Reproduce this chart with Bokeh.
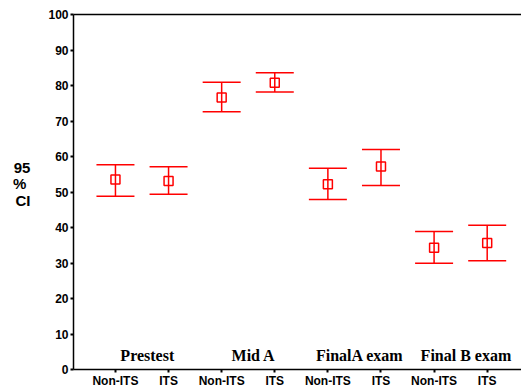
from bokeh.plotting import figure
from bokeh.models import (ColumnDataSource, Whisker, TeeHead, FixedTicker, Range1d,
                          LinearAxis)
from bokeh.core.properties import value
from bokeh.embed import file_html
from bokeh.resources import INLINE

# ---- data ----
tick_labels = ["Non-ITS", "ITS", "Non-ITS", "ITS", "Non-ITS", "ITS", "Non-ITS", "ITS"]
groups = ["Prestest", "Mid A", "FinalA exam", "Final B exam"]
means = [53.5, 53.1, 76.6, 80.8, 52.2, 57.2, 34.3, 35.6]
lower = [48.8, 49.4, 72.6, 78.2, 47.9, 51.8, 29.9, 30.6]
upper = [57.7, 57.1, 80.9, 83.6, 56.7, 62.0, 38.9, 40.6]
y_ticks = list(range(0, 101, 10))
y_title = "95\n% \nCI\n "

xs = list(range(1, len(tick_labels) + 1))
group_x = [(xs[2 * i] + xs[2 * i + 1]) / 2 + 0.1 for i in range(len(groups))]

RED = "#ff0000"
SANS = "Liberation Sans"
SERIF = "Liberation Serif"

p = figure(width=521, height=390, output_backend="svg", toolbar_location=None,
           x_range=Range1d(0.21, 8.646), y_range=Range1d(0, 100),
           min_border_left=73, min_border_right=0, min_border_top=14, min_border_bottom=21)
p.outline_line_color = None
p.xgrid.visible = False
p.ygrid.visible = False
p.background_fill_color = "white"
p.border_fill_color = "white"

# axes
p.yaxis.ticker = FixedTicker(ticks=y_ticks)
p.yaxis.minor_tick_line_color = None
p.yaxis.major_tick_in = 0
p.yaxis.major_tick_out = 3
p.yaxis.major_tick_line_width = 2
p.yaxis.axis_line_width = 1.5
p.yaxis.major_label_standoff = 2
p.yaxis.major_label_text_font = SANS
p.yaxis.major_label_text_font_style = "bold"
p.yaxis.major_label_text_font_size = "12px"
p.yaxis.major_label_text_color = "black"
p.yaxis.axis_label = y_title
p.yaxis.axis_label_orientation = "horizontal"
p.yaxis.axis_label_text_font = SANS
p.yaxis.axis_label_text_font_style = "bold"
p.yaxis.axis_label_text_font_size = "15px"
p.yaxis.axis_label_text_line_height = 0.95
p.yaxis.axis_label_text_color = "black"
p.yaxis.axis_label_standoff = 15

p.xaxis.ticker = FixedTicker(ticks=xs)
p.xaxis.major_label_overrides = {x: t for x, t in zip(xs, tick_labels)}
p.xaxis.minor_tick_line_color = None
p.xaxis.major_tick_in = 0
p.xaxis.major_tick_out = 3
p.xaxis.major_tick_line_width = 2
p.xaxis.axis_line_width = 1.5
p.xaxis.major_label_standoff = 1
p.xaxis.axis_label_standoff = 0
p.xaxis.major_label_text_font = SANS
p.xaxis.major_label_text_font_style = "bold"
p.xaxis.major_label_text_font_size = "12px"
p.xaxis.major_label_text_color = "black"

top_axis = LinearAxis(ticker=FixedTicker(ticks=[]), axis_line_width=1.5,
                      major_tick_line_color=None, minor_tick_line_color=None,
                      major_label_standoff=0, major_label_text_font_size="0px",
                      axis_label_standoff=0)
p.add_layout(top_axis, "above")

# error bars
src = ColumnDataSource(dict(x=xs, mean=means, lower=lower, upper=upper))
w = Whisker(base="x", upper="upper", lower="lower", source=src,
            line_color=RED, line_width=1.5,
            upper_head=TeeHead(size=38, line_color=RED, line_width=1.5),
            lower_head=TeeHead(size=38, line_color=RED, line_width=1.5))
p.add_layout(w)
p.scatter("x", "mean", source=src, marker="square", size=9,
          fill_color=None, line_color=RED, line_width=1.5)

# group labels inside the frame, above the axis
gsrc = ColumnDataSource(dict(x=group_x, y=[1.5] * len(groups), text=groups))
p.text("x", "y", text="text", source=gsrc, text_align="center", text_baseline="bottom",
       text_font=value(SERIF), text_font_style="bold", text_font_size="16px",
       text_color="black")

open("out.html", "w").write(file_html(p, INLINE))
